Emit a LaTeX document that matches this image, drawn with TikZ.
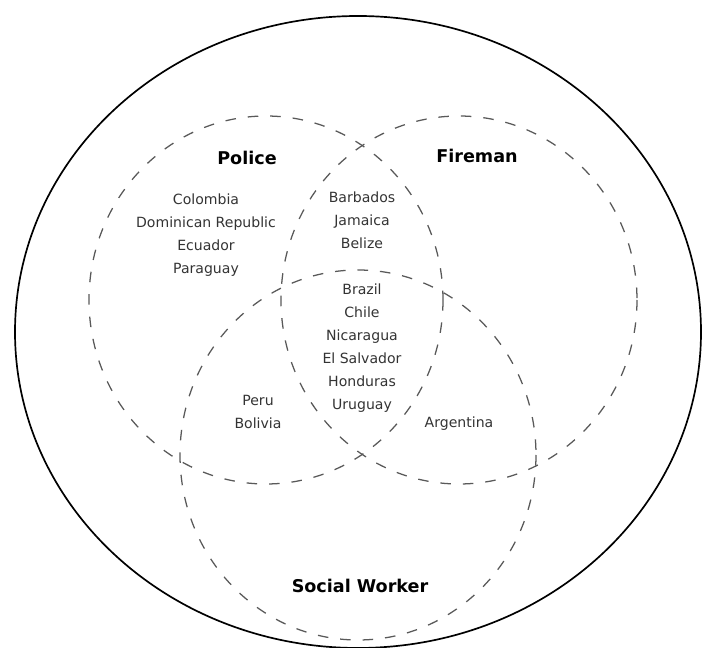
\documentclass[tikz,border=0pt]{standalone}
\usepackage{fontspec}
\setmainfont{DejaVu Sans}
\usetikzlibrary{positioning}
\tikzset{
    %Define style for the set outlines
    setline/.style={
           draw=black!65,
           line width=0.9pt,
           dash pattern=on 7.5pt off 8.5pt},
    %Define style for set names
    setname/.style={
           font=\bfseries\fontsize{12.5}{14}\selectfont,
           text centered},
    % Define style for country lists
    land/.style={
           font=\fontsize{10}{16.3}\selectfont,
           text=black!80,
           align=center,
           inner sep=0pt}
}
\begin{document}
\begin{tikzpicture}[x=0.025cm,y=-0.025cm]
\useasboundingbox (0,0) rectangle (705,648);

\draw[line width=1.2pt] (358,332) ellipse [x radius=343, y radius=316];

\coordinate (pol) at (266,300);
\coordinate (fir) at (459,300);
\coordinate (soc) at (358,455);

\draw[setline] (pol) ellipse [x radius=177, y radius=184];
\draw[setline] (fir) ellipse [x radius=178, y radius=184];
\draw[setline] (soc) ellipse [x radius=178, y radius=185];

\node[setname](police) at (247,158){Police};
\node[setname](fireman) at (477,156){Fireman};
\node[setname](social) at (360,586){Social Worker};

\node[land, anchor=north](onlypol) at (206,194){Colombia\\Dominican Republic\\Ecuador\\Paraguay};
\node[land, anchor=north](polfir) at (362,192){Barbados\\Jamaica\\Belize};
\node[land, anchor=north](allthree) at (362,284){Brazil\\Chile\\Nicaragua\\El Salvador\\Honduras\\Uruguay};
\node[land, anchor=north](polsoc) at (258,395){Peru\\Bolivia};
\node[land](firsoc) at (459,424){Argentina};

\end{tikzpicture}
\end{document}
